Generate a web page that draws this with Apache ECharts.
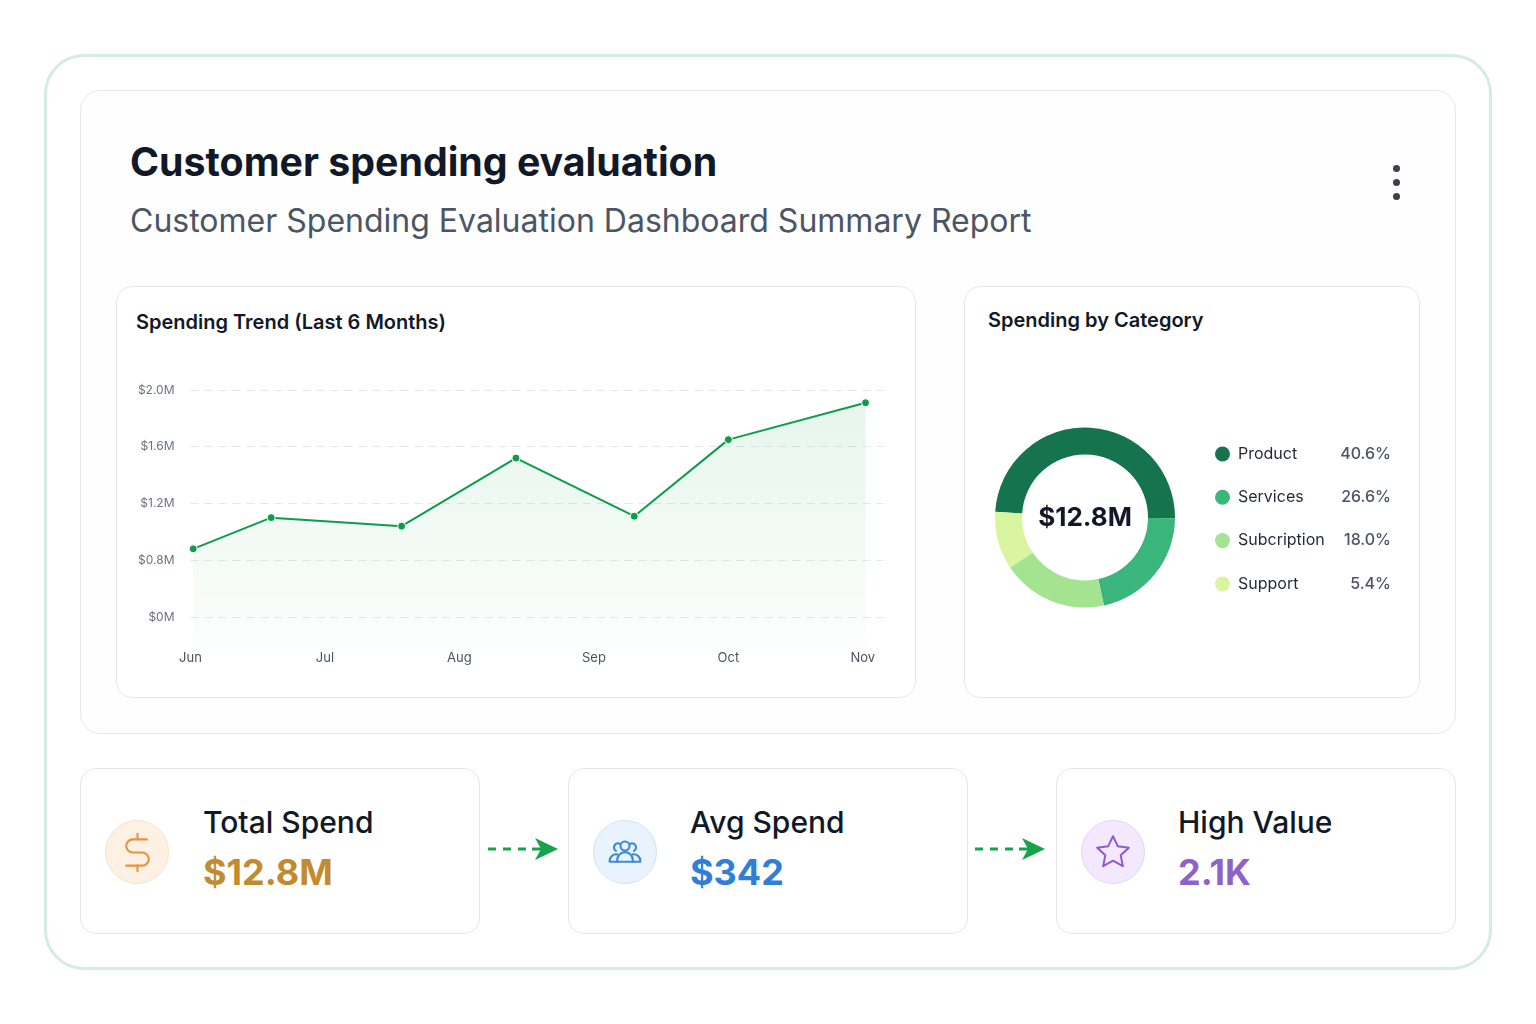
<!DOCTYPE html>
<html lang="en">
<head>
<meta charset="UTF-8">
<title>Customer spending evaluation</title>
<script src="https://cdn.jsdelivr.net/npm/echarts@6/dist/echarts.min.js"></script>
<style>
    body { margin: 0; width: 1536px; height: 1024px; background: #fff; font-family: Inter, "Noto Sans", sans-serif; position: relative; overflow: hidden; }
    .abs { position: absolute; box-sizing: border-box; }
    .frame { left: 44px; top: 54px; width: 1448px; height: 916px; border: 3px solid #d5ece3; border-radius: 40px; }
    .panel { left: 80px; top: 90px; width: 1376px; height: 644px; border: 1px solid #e8e8e8; border-radius: 20px; background: #fefefe; }
    .card { border: 1px solid #e6e6e6; border-radius: 16px; background: #fff; }
    .txt { white-space: nowrap; line-height: 1; }
    .title { left: 130px; top: 142px; font-size: 39.3px; font-weight: 700; color: #111827; }
    .sub { left: 130px; top: 205px; font-size: 32px; font-weight: 400; color: #4b5563; }
    .ctitle { font-size: 20px; font-weight: 600; color: #111827; }
    .dot { width: 7px; height: 7px; border-radius: 50%; background: #374151; left: 1393px; }
    .icon { width: 64px; height: 64px; border-radius: 50%; left: 24px; top: 51px; display: flex; align-items: center; justify-content: center; }
    .ktitle { top: 807px; font-size: 30px; font-weight: 500; color: #111827; }
    .kval { top: 854px; font-size: 36px; font-weight: 700; }
</style>
</head>
<body>

<div class="abs frame"></div>
<div class="abs panel"></div>

<div class="abs txt title">Customer spending evaluation</div>
<div class="abs txt sub">Customer Spending Evaluation Dashboard Summary Report</div>
<div class="abs dot" style="top:165px"></div>
<div class="abs dot" style="top:179px"></div>
<div class="abs dot" style="top:193px"></div>

<!-- line chart card -->
<div class="abs card" style="left:116px;top:286px;width:800px;height:412px"></div>
<div class="abs txt ctitle" style="left:136px;top:312px">Spending Trend (Last 6 Months)</div>
<div id="trend" class="abs" style="left:116px;top:286px;width:800px;height:412px"></div>

<!-- donut card -->
<div class="abs card" style="left:964px;top:286px;width:456px;height:412px"></div>
<div class="abs txt ctitle" style="left:988px;top:310px">Spending by Category</div>
<div id="category" class="abs" style="left:964px;top:286px;width:456px;height:412px"></div>

<!-- kpi cards -->
<div class="abs card" style="left:80px;top:768px;width:400px;height:166px">
    <div class="abs icon" style="background:#fdf1e3;border:1px solid #f7e2ca">
        <svg width="45" height="45" viewBox="0 0 24 24" fill="none" stroke="#e8923c" stroke-width="1.1" stroke-linecap="round" stroke-linejoin="round">
            <line x1="12" y1="2" x2="12" y2="5"/>
            <line x1="12" y1="19" x2="12" y2="22"/>
            <path d="M17 5H9.5a3.5 3.5 0 0 0 0 7h5a3.5 3.5 0 0 1 0 7H6"/>
        </svg>
    </div>
</div>
<div class="abs card" style="left:568px;top:768px;width:400px;height:166px">
    <div class="abs icon" style="background:#e9f3fd;border:1px solid #d3e3f5">
        <svg width="36" height="36" viewBox="0 0 24 24" fill="none" stroke="#3d88da" stroke-width="1.4" stroke-linecap="round" stroke-linejoin="round">
            <circle cx="12" cy="8" r="3"/>
            <path d="M6.8 18.5v-1.2a5.2 5.2 0 0 1 10.4 0v1.2z"/>
            <path d="M8.6 6.6a2.6 2.6 0 1 0-2.6 4.6"/>
            <path d="M15.4 6.6a2.6 2.6 0 1 1 2.6 4.6"/>
            <path d="M6.8 13.6a4.3 4.3 0 0 0-5 4.2v0.7h5"/>
            <path d="M17.2 13.6a4.3 4.3 0 0 1 5 4.2v0.7h-5"/>
        </svg>
    </div>
</div>
<div class="abs card" style="left:1056px;top:768px;width:400px;height:166px">
    <div class="abs icon" style="background:#f3e8fd;border:1px solid #e5d5f6">
        <svg width="40" height="40" viewBox="0 0 24 24" fill="none" stroke="#8d5ad3" stroke-width="1.2" stroke-linejoin="round">
            <polygon points="12 2.5 14.9 8.6 21.5 9.4 16.6 13.9 17.9 20.5 12 17.2 6.1 20.5 7.4 13.9 2.5 9.4 9.1 8.6"/>
        </svg>
    </div>
</div>

<div class="abs txt ktitle" style="left:203px">Total Spend</div>
<div class="abs txt kval" style="left:203px;color:#c38b2f">$12.8M</div>
<div class="abs txt ktitle" style="left:690px">Avg Spend</div>
<div class="abs txt kval" style="left:690px;color:#2f7fd6">$342</div>
<div class="abs txt ktitle" style="left:1178px">High Value</div>
<div class="abs txt kval" style="left:1178px;color:#8f62c8">2.1K</div>

<svg class="abs" style="left:487px;top:837px" width="74" height="24">
    <line x1="1" y1="12" x2="40" y2="12" stroke="#16a34a" stroke-width="3" stroke-dasharray="8 7"/>
    <line x1="45" y1="12" x2="54" y2="12" stroke="#16a34a" stroke-width="3"/>
    <path d="M48 1 L71 12 L48 23 L54 12 Z" fill="#16a34a"/>
</svg>
<svg class="abs" style="left:974px;top:837px" width="74" height="24">
    <line x1="1" y1="12" x2="40" y2="12" stroke="#16a34a" stroke-width="3" stroke-dasharray="8 7"/>
    <line x1="45" y1="12" x2="54" y2="12" stroke="#16a34a" stroke-width="3"/>
    <path d="M48 1 L71 12 L48 23 L54 12 Z" fill="#16a34a"/>
</svg>

<script type="text/javascript">
    // months on the x axis
    var months = ['Jun', 'Jul', 'Aug', 'Sep', 'Oct', 'Nov'];
    // where each point sits between the month ticks (0 = Jun ... 5 = Nov)
    var trendX = [0.02, 0.6, 1.57, 2.42, 3.3, 4.0, 5.02];
    // spending, $M
    var trendY = [0.88, 1.10, 1.04, 1.52, 1.11, 1.65, 1.91];
    // y ticks as labelled in the picture
    var yTickValues = [0.4, 0.8, 1.2, 1.6, 2.0];
    var yTickLabels = ['$0M', '$0.8M', '$1.2M', '$1.6M', '$2.0M'];

    // donut
    var categories = ['Product', 'Services', 'Subcription', 'Support'];
    var sliceValues = [49.1, 21.5, 19.0, 10.4];
    var shareLabels = ['40.6%', '26.6%', '18.0%', '5.4%'];
    var totalLabel = '$12.8M';

    var green = '#0d9c4c';

    var trendChart = echarts.init(document.getElementById('trend'));
    trendChart.setOption({
        textStyle: { fontFamily: 'Inter' },
        animation: false,
        grid: { left: 74.5, top: 104, right: 33, bottom: 51.3 },
        xAxis: {
            type: 'value',
            min: 0,
            max: 5.15,
            axisLine: { show: false },
            axisTick: { show: false },
            splitLine: { show: false },
            axisLabel: {
                customValues: [0, 1, 2, 3, 4, 5],
                formatter: function (v) { return months[Math.round(v)]; },
                color: '#4b5563',
                fontSize: 13,
                margin: 5
            }
        },
        yAxis: {
            type: 'value',
            min: 0.19,
            max: 2.0,
            axisLine: { show: false },
            axisTick: { show: false, customValues: yTickValues },
            axisLabel: {
                customValues: yTickValues,
                formatter: function (v) {
                    var i = yTickValues.indexOf(Math.round(v * 10) / 10);
                    return i < 0 ? '' : yTickLabels[i];
                },
                color: '#6b7280',
                fontSize: 12,
                margin: 16
            },
            splitLine: { lineStyle: { color: '#e5e7eb', type: [8, 6], width: 1 } }
        },
        series: [{
            type: 'line',
            data: trendX.map(function (x, i) { return [x, trendY[i]]; }),
            symbol: 'circle',
            symbolSize: 8,
            lineStyle: { color: green, width: 2 },
            itemStyle: { color: green, borderColor: '#fff', borderWidth: 1 },
            areaStyle: {
                origin: 'start',
                color: new echarts.graphic.LinearGradient(0, 0, 0, 1, [
                    { offset: 0, color: 'rgba(22,163,74,0.15)' },
                    { offset: 1, color: 'rgba(22,163,74,0.02)' }
                ])
            }
        }]
    });

    var catChart = echarts.init(document.getElementById('category'));
    catChart.setOption({
        textStyle: { fontFamily: 'Inter' },
        animation: false,
        color: ['#15734e', '#3ab57b', '#a4e491', '#daf5a0'],
        legend: {
            orient: 'vertical',
            left: 246,
            top: 155,
            icon: 'circle',
            itemWidth: 15,
            itemHeight: 15,
            itemGap: 27.3,
            selectedMode: false,
            data: categories,
            formatter: function (name) {
                return '{n|' + name + '}{p|' + shareLabels[categories.indexOf(name)] + '}';
            },
            textStyle: {
                lineHeight: 15,
                rich: {
                    n: { width: 100, padding: [0, 0, 0, 3], fontSize: 16, color: '#1f2937', fontFamily: 'Inter' },
                    p: { width: 53, align: 'right', fontSize: 16, fontWeight: 500, color: '#4b5563', fontFamily: 'Inter' }
                }
            }
        },
        graphic: [{
            type: 'text',
            x: 121,
            y: 232,
            style: { text: totalLabel, align: 'center', verticalAlign: 'middle', font: '700 26px Inter', fill: '#111827' }
        }],
        series: [{
            type: 'pie',
            center: [121, 231.5],
            radius: [63, 90],
            startAngle: 176.3,
            label: { show: false },
            labelLine: { show: false },
            emphasis: { disabled: true },
            data: categories.map(function (c, i) { return { name: c, value: sliceValues[i] }; })
        }]
    });
</script>
</body>
</html>
